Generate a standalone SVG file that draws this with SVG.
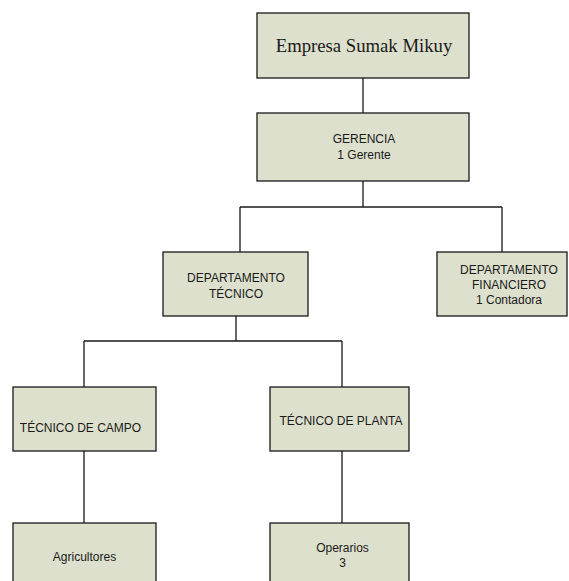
<svg xmlns="http://www.w3.org/2000/svg" width="569" height="581" viewBox="0 0 569 581">
<style>
.box{fill:#dde0cc;stroke:#1a1a1a;stroke-width:1.3}
.t{font-family:"Liberation Sans",Arial,sans-serif;font-size:12px;fill:#1a1a1a;text-anchor:middle}
.s{font-family:"Liberation Serif","Times New Roman",serif;font-size:18.7px;fill:#1a1a1a;text-anchor:middle}
.c{fill:none;stroke:#1a1a1a;stroke-width:1.3}
</style>
<rect width="569" height="581" fill="#ffffff"/>
<g id="connectors">
<path class="c" d="M363,78V113"/>
<path class="c" d="M363,181V207M240,207H502M240,207V252M502,207V252"/>
<path class="c" d="M236,316V341M84,341H342M84,341V387M342,341V387"/>
<path class="c" d="M84,451V523"/>
<path class="c" d="M342,451V523"/>
</g>
<g id="empresa">
<rect class="box" x="257" y="13" width="212" height="65"/>
<text class="s" x="364" y="52">Empresa Sumak Mikuy</text>
</g>
<g id="gerencia">
<rect class="box" x="257" y="113" width="212" height="68"/>
<text class="t" x="364" y="143">GERENCIA</text>
<text class="t" x="364" y="159">1 Gerente</text>
</g>
<g id="dep-tecnico">
<rect class="box" x="163" y="252" width="145" height="64"/>
<text class="t" x="236" y="282">DEPARTAMENTO</text>
<text class="t" x="236" y="298">TÉCNICO</text>
</g>
<g id="dep-financiero">
<rect class="box" x="437" y="252" width="130" height="64"/>
<text class="t" x="509" y="274">DEPARTAMENTO</text>
<text class="t" x="509" y="289">FINANCIERO</text>
<text class="t" x="509" y="304">1 Contadora</text>
</g>
<g id="tecnico-campo">
<rect class="box" x="13" y="387" width="143" height="64"/>
<text class="t" x="80.5" y="432">TÉCNICO DE CAMPO</text>
</g>
<g id="tecnico-planta">
<rect class="box" x="270" y="387" width="139" height="64"/>
<text class="t" x="341" y="425">TÉCNICO DE PLANTA</text>
</g>
<g id="agricultores">
<rect class="box" x="13" y="523" width="143" height="70"/>
<text class="t" x="84.5" y="561">Agricultores</text>
</g>
<g id="operarios">
<rect class="box" x="270" y="523" width="139" height="70"/>
<text class="t" x="342.5" y="552">Operarios</text>
<text class="t" x="342.5" y="567">3</text>
</g>
</svg>
